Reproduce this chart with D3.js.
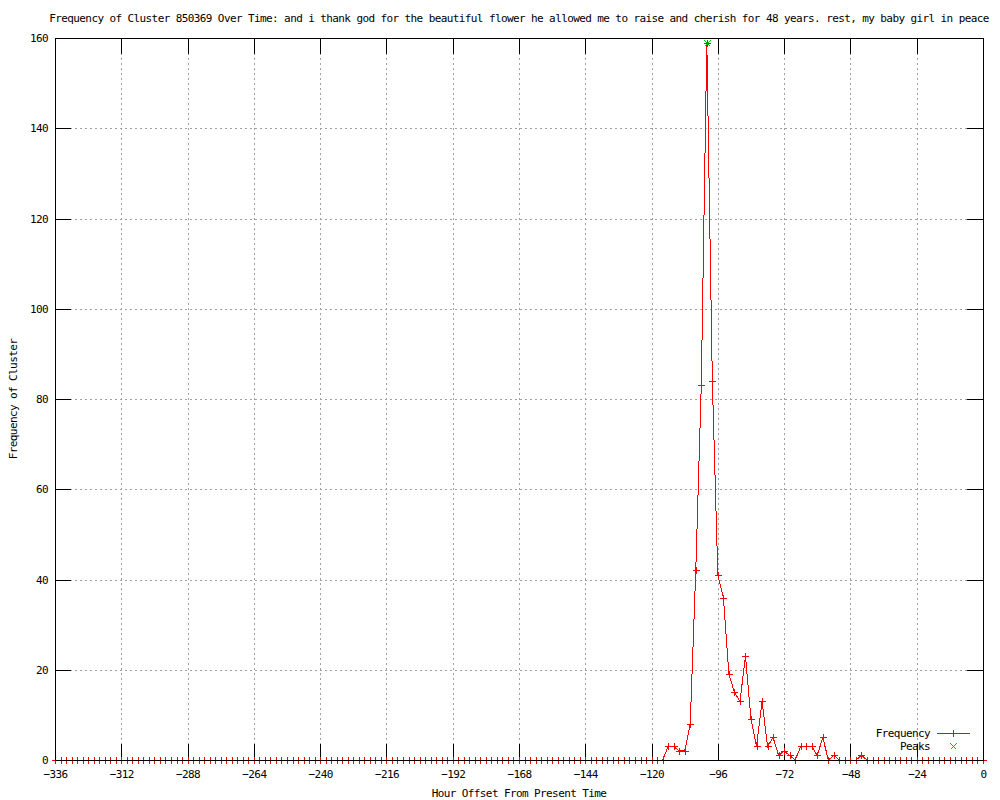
<!DOCTYPE html>
<html>
<head>
<meta charset="utf-8">
<script src="https://cdn.jsdelivr.net/npm/d3@7"></script>
<style>
  body { margin: 0; background: #fff; }
  text { font-family: "DejaVu Sans Mono", monospace; font-size: 11px; letter-spacing: -0.6px; fill: #000; }
</style>
</head>
<body>
<script>
// hour offsets, one sample every 2 hours
const hours = d3.range(-336, 1, 2);

// frequency per sample (12 samples = 24h per row)
const frequency = [
  0, 0, 0, 0, 0, 0, 0, 0, 0, 0, 0, 0,        // -336 .. -314
  0, 0, 0, 0, 0, 0, 0, 0, 0, 0, 0, 0,        // -312 .. -290
  0, 0, 0, 0, 0, 0, 0, 0, 0, 0, 0, 0,        // -288 .. -266
  0, 0, 0, 0, 0, 0, 0, 0, 0, 0, 0, 0,        // -264 .. -242
  0, 0, 0, 0, 0, 0, 0, 0, 0, 0, 0, 0,        // -240 .. -218
  0, 0, 0, 0, 0, 0, 0, 0, 0, 0, 0, 0,        // -216 .. -194
  0, 0, 0, 0, 0, 0, 0, 0, 0, 0, 0, 0,        // -192 .. -170
  0, 0, 0, 0, 0, 0, 0, 0, 0, 0, 0, 0,        // -168 .. -146
  0, 0, 0, 0, 0, 0, 0, 0, 0, 0, 0, 0,        // -144 .. -122
  0, 0, 0, 3, 3, 2, 2, 8, 42, 83, 159, 84,   // -120 .. -98
  41, 36, 19, 15, 13, 23, 9, 3, 13, 3, 5, 1, // -96 .. -74
  2, 1, 0, 3, 3, 3, 1, 5, 0, 1, 0, 0,        // -72 .. -50
  0, 0, 1, 0, 0, 0, 0, 0, 0, 0, 0, 0,        // -48 .. -26
  0, 0, 0, 0, 0, 0, 0, 0, 0, 0, 0, 0,        // -24 .. -2
  0                                          // 0
];

const peakHours = [-100];
const peakValues = [159];

const xTicks = [-336, -312, -288, -264, -240, -216, -192, -168, -144, -120, -96, -72, -48, -24, 0];
const yTicks = [0, 20, 40, 60, 80, 100, 120, 140, 160];

const titleText = 'Frequency of Cluster 850369 Over Time: and i thank god for the beautiful flower he allowed me to raise and cherish for 48 years. rest, my baby girl in peace';

const red = '#ff0000';
const green = '#00c000';

const margin = { top: 38, right: 17, bottom: 40, left: 55 };
const width = 1000 - margin.left - margin.right;   // 928
const height = 800 - margin.top - margin.bottom;   // 722

const series = hours.map((h, i) => ({ hour: h, value: frequency[i] }));
const peaks = peakHours.map((h, i) => ({ hour: h, value: peakValues[i] }));

const xScale = d3.scaleLinear().domain([-336, 0]).range([0, width]);
const yScale = d3.scaleLinear().domain([0, 160]).range([height, 0]);

const svg = d3.select('body')
  .append('svg')
  .attr('width', 1000)
  .attr('height', 800)
  .append('g')
  .attr('transform', `translate(${margin.left}, ${margin.top})`);

// grid
const grid = svg.append('g')
  .style('stroke', '#a0a0a0')
  .attr('stroke-dasharray', '2,3')
  .attr('shape-rendering', 'crispEdges');

grid.selectAll('.vgrid').data(xTicks.slice(1, -1))
  .enter().append('line')
  .attr('x1', d => Math.round(xScale(d)) + 0.5)
  .attr('x2', d => Math.round(xScale(d)) + 0.5)
  .attr('y1', 0)
  .attr('y2', height);

grid.selectAll('.hgrid').data(yTicks.slice(1, -1))
  .enter().append('line')
  .attr('y1', d => Math.round(yScale(d)) + 0.5)
  .attr('y2', d => Math.round(yScale(d)) + 0.5)
  .attr('x1', 0)
  .attr('x2', width);

// axes, ticks point inwards on all four sides
const tick = 16;

const xAxis = d3.axisBottom(xScale).tickValues(xTicks).tickSize(-tick).tickPadding(10);
const yAxis = d3.axisLeft(yScale).tickValues(yTicks).tickSize(-tick).tickPadding(7);

function styleAxis(g) {
  g.select('.domain').remove();
  g.selectAll('line').style('stroke', '#000').attr('shape-rendering', 'crispEdges');
  g.attr('font-family', null).attr('font-size', null);
}

svg.append('g')
  .attr('transform', `translate(0, ${height})`)
  .call(xAxis)
  .call(styleAxis);

svg.append('g')
  .call(yAxis)
  .call(styleAxis);

svg.append('g')
  .call(d3.axisTop(xScale).tickValues(xTicks).tickSize(-tick).tickFormat(''))
  .call(styleAxis);

svg.append('g')
  .attr('transform', `translate(${width}, 0)`)
  .call(d3.axisRight(yScale).tickValues(yTicks).tickSize(-tick).tickFormat(''))
  .call(styleAxis);

// frequency line
const line = d3.line()
  .x(d => xScale(d.hour))
  .y(d => yScale(d.value));

svg.append('path')
  .datum(series)
  .style('fill', 'none')
  .style('stroke', red)
  .style('stroke-width', 1)
  .attr('shape-rendering', 'crispEdges')
  .attr('d', line);

const plusPath = 'M-3.5,0H3.5M0,-3.5V3.5';
const crossPath = 'M-3,-3L3,3M-3,3L3,-3';

svg.selectAll('.pt').data(series)
  .enter().append('path')
  .attr('class', 'pt')
  .attr('transform', d => `translate(${Math.round(xScale(d.hour)) + 0.5}, ${Math.round(yScale(d.value)) + 0.5})`)
  .attr('d', plusPath)
  .style('stroke', red)
  .style('fill', 'none')
  .attr('shape-rendering', 'crispEdges');

svg.selectAll('.peak').data(peaks)
  .enter().append('path')
  .attr('class', 'peak')
  .attr('transform', d => `translate(${Math.round(xScale(d.hour)) + 0.5}, ${Math.round(yScale(d.value)) + 0.5})`)
  .attr('d', crossPath)
  .style('stroke', green)
  .style('fill', 'none')
  .attr('shape-rendering', 'crispEdges');

// border on top
svg.append('rect')
  .attr('x', 0.5)
  .attr('y', 0.5)
  .attr('width', width)
  .attr('height', height)
  .style('fill', 'none')
  .style('stroke', '#000')
  .attr('shape-rendering', 'crispEdges');

// legend
const legend = svg.append('g').attr('transform', `translate(${930 - margin.left}, ${733 - margin.top})`);

legend.append('text').attr('x', 0).attr('y', 4).style('text-anchor', 'end').text('Frequency');
legend.append('line')
  .attr('x1', 7).attr('x2', 40).attr('y1', 0.5).attr('y2', 0.5)
  .style('stroke', red)
  .attr('shape-rendering', 'crispEdges');
legend.append('path')
  .attr('transform', 'translate(23.5, 0.5)')
  .attr('d', plusPath)
  .style('stroke', red)
  .style('fill', 'none')
  .attr('shape-rendering', 'crispEdges');

legend.append('text').attr('x', 0).attr('y', 17).style('text-anchor', 'end').text('Peaks');
legend.append('path')
  .attr('transform', 'translate(23.5, 13.5)')
  .attr('d', crossPath)
  .style('stroke', green)
  .style('fill', 'none')
  .attr('shape-rendering', 'crispEdges');

// titles
svg.append('text')
  .attr('x', width / 2)
  .attr('y', 22 - margin.top)
  .style('text-anchor', 'middle')
  .text(titleText);

svg.append('text')
  .attr('x', width / 2)
  .attr('y', 797 - margin.top)
  .style('text-anchor', 'middle')
  .text('Hour Offset From Present Time');

svg.append('text')
  .attr('transform', 'rotate(-90)')
  .attr('x', -height / 2)
  .attr('y', 17 - margin.left)
  .style('text-anchor', 'middle')
  .text('Frequency of Cluster');
</script>
</body>
</html>
